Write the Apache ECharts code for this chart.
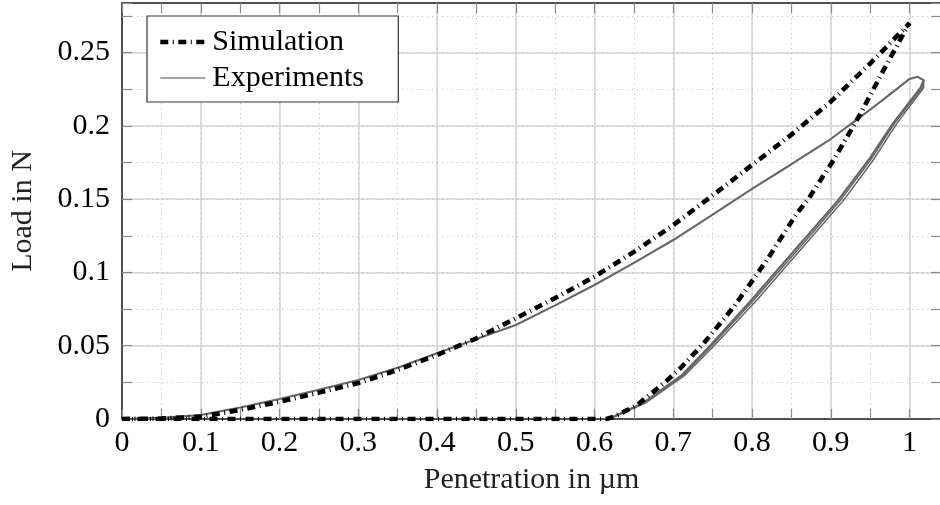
<!DOCTYPE html>
<html>
<head>
<meta charset="utf-8">
<script src="https://cdn.jsdelivr.net/npm/echarts@6/dist/echarts.min.js"></script>
<style>
  html, body { margin: 0; padding: 0; background: #fff; }
  #chart { width: 940px; height: 505px; }
</style>
</head>
<body>
<div id="chart"></div>
<script>
// simulation: loading branch, then unloading branch
var simLoadX = [0, 0.05, 0.1, 0.15, 0.2, 0.25, 0.3, 0.35, 0.4, 0.45, 0.5, 0.55, 0.6, 0.65, 0.7, 0.75, 0.8, 0.85, 0.9, 0.95, 1.0];
var simLoadY = [0, 0.0003, 0.0016, 0.0062, 0.0118, 0.018, 0.0245, 0.0335, 0.0437, 0.055, 0.0687, 0.0825, 0.0971, 0.114, 0.1323, 0.1525, 0.1733, 0.194, 0.2165, 0.2425, 0.270];
var simUnloadX = [1.0, 0.99, 0.967, 0.938, 0.904, 0.872, 0.857, 0.819, 0.777, 0.74, 0.709, 0.688, 0.654, 0.625, 0.615, 0];
var simUnloadY = [0.270, 0.2605, 0.238, 0.2085, 0.177, 0.1505, 0.1403, 0.1085, 0.0766, 0.0525, 0.0346, 0.0243, 0.0095, 0.0016, 0, 0];

// experiments: loading (cycles overlap), three unloading cycles
var expLoadX = [0, 0.05, 0.1, 0.15, 0.2, 0.25, 0.3, 0.35, 0.4, 0.45, 0.5, 0.55, 0.6, 0.65, 0.7, 0.75, 0.8, 0.85, 0.9, 0.95, 0.98, 1.0, 1.01, 1.018];
var expLoadY = [0, 0.0008, 0.0027, 0.0078, 0.0136, 0.0199, 0.0266, 0.035, 0.0448, 0.0545, 0.0641, 0.0775, 0.0914, 0.1065, 0.1221, 0.1395, 0.157, 0.1738, 0.191, 0.211, 0.2235, 0.232, 0.2335, 0.2312];
var expUnloadY = [0.2312, 0.226, 0.2017, 0.1767, 0.149, 0.1175, 0.081, 0.049, 0.030, 0.0107, 0.0005, 0];
var expUnloadX1 = [1.018, 1.014, 0.979, 0.948, 0.909, 0.858, 0.799, 0.745, 0.711, 0.661, 0.62, 0.612];
var expUnloadX2 = [1.018, 1.016, 0.981, 0.9505, 0.912, 0.8615, 0.802, 0.747, 0.713, 0.662, 0.62, 0.612];
var expUnloadX3 = [1.018, 1.018, 0.984, 0.954, 0.916, 0.865, 0.806, 0.750, 0.715, 0.664, 0.621, 0.612];

var xMax = 1.04, yMax = 0.2838;
var font = 'Liberation Serif';

function pairs(xs, ys) {
    var out = [];
    for (var i = 0; i < xs.length; i++) {
        out.push([xs[i], ys[i]]);
    }
    return out;
}

var simData = pairs(simLoadX, simLoadY).concat(pairs(simUnloadX, simUnloadY));
var expData1 = pairs(expLoadX, expLoadY).concat(pairs(expUnloadX1, expUnloadY));

var majorSplit = {show: true, lineStyle: {color: '#d4d4d4', width: 1.5}};
var minorSplit = {show: true, lineStyle: {color: '#c4c4c4', width: 1, type: [1.2, 3.8]}};
var frame = {show: true, onZero: false, lineStyle: {color: '#222', width: 1.5}};
var inTick = {show: true, inside: true, length: 10, lineStyle: {color: '#8c8c8c', width: 1.2}};
var simStyle = {color: '#000', width: 4.6, type: [8, 4.5, 1, 4.5], cap: 'butt'};

var myChart = echarts.init(document.getElementById('chart'), null, {renderer: 'canvas'});

var option = {
    animation: false,
    backgroundColor: '#fff',
    grid: {left: 122, right: -1, top: 3, bottom: 86, containLabel: false, outerBoundsMode: 'none'},
    legend: {
        data: [
            {name: 'Simulation', lineStyle: {width: 4.6}},
            {name: 'Experiments', lineStyle: {width: 1.3, color: '#888'}}
        ],
        orient: 'vertical',
        left: 147,
        top: 16,
        padding: [11, 14, 9, 11],
        itemGap: 6,
        itemWidth: 45,
        itemHeight: 14,
        itemStyle: {opacity: 0},
        backgroundColor: '#fff',
        borderColor: '#333',
        borderWidth: 1.2,
        borderRadius: 0,
        textStyle: {fontFamily: font, fontSize: 30, color: '#000', lineHeight: 30, width: 172, padding: [0, 0, 0, 2]}
    },
    xAxis: [
        {
            type: 'value', position: 'bottom', min: 0, max: xMax, interval: 0.1,
            axisLine: frame, axisTick: {show: false}, splitLine: majorSplit,
            axisLabel: {fontFamily: font, fontSize: 30, color: '#000', margin: 9, showMaxLabel: false},
            name: 'Penetration in µm', nameLocation: 'middle', nameGap: 46, nameMoveOverlap: false,
            nameTextStyle: {fontFamily: font, fontSize: 30, color: '#222'}
        },
        {
            type: 'value', position: 'bottom', min: 0, max: xMax, interval: 0.05,
            axisLine: {show: false}, axisTick: inTick, axisLabel: {show: false}, splitLine: minorSplit
        },
        {
            type: 'value', position: 'top', min: 0, max: xMax, interval: 0.05,
            axisLine: frame, axisTick: inTick, axisLabel: {show: false}, splitLine: {show: false}
        }
    ],
    yAxis: [
        {
            type: 'value', position: 'left', min: 0, max: yMax, interval: 0.05,
            axisLine: frame, axisTick: {show: false}, splitLine: majorSplit,
            axisLabel: {fontFamily: font, fontSize: 30, color: '#000', margin: 12, showMaxLabel: false},
            name: 'Load in N', nameLocation: 'middle', nameGap: 84, nameRotate: 90,
            nameTextStyle: {fontFamily: font, fontSize: 30, color: '#222'}
        },
        {
            type: 'value', position: 'left', min: 0, max: yMax, interval: 0.025,
            axisLine: {show: false}, axisTick: inTick, axisLabel: {show: false}, splitLine: minorSplit
        },
        {
            type: 'value', position: 'right', min: 0, max: yMax, interval: 0.025,
            axisLine: frame, axisTick: inTick, axisLabel: {show: false}, splitLine: {show: false}
        }
    ],
    series: [
        {
            name: 'Experiments', type: 'line', data: expData1, symbol: 'none',
            lineStyle: {color: '#666', width: 2.1}, itemStyle: {color: '#666'}
        },
        {
            name: 'Experiments', type: 'line', data: pairs(expUnloadX2, expUnloadY), symbol: 'none',
            lineStyle: {color: '#666', width: 1.5}, itemStyle: {color: '#666'}
        },
        {
            name: 'Experiments', type: 'line', data: pairs(expUnloadX3, expUnloadY), symbol: 'none',
            lineStyle: {color: '#666', width: 1.5}, itemStyle: {color: '#666'}
        },
        {
            name: 'Simulation', type: 'line', data: simData, symbol: 'none', z: 5,
            lineStyle: simStyle, itemStyle: {color: '#000'}
        }
    ]
};

myChart.setOption(option);
</script>
</body>
</html>
